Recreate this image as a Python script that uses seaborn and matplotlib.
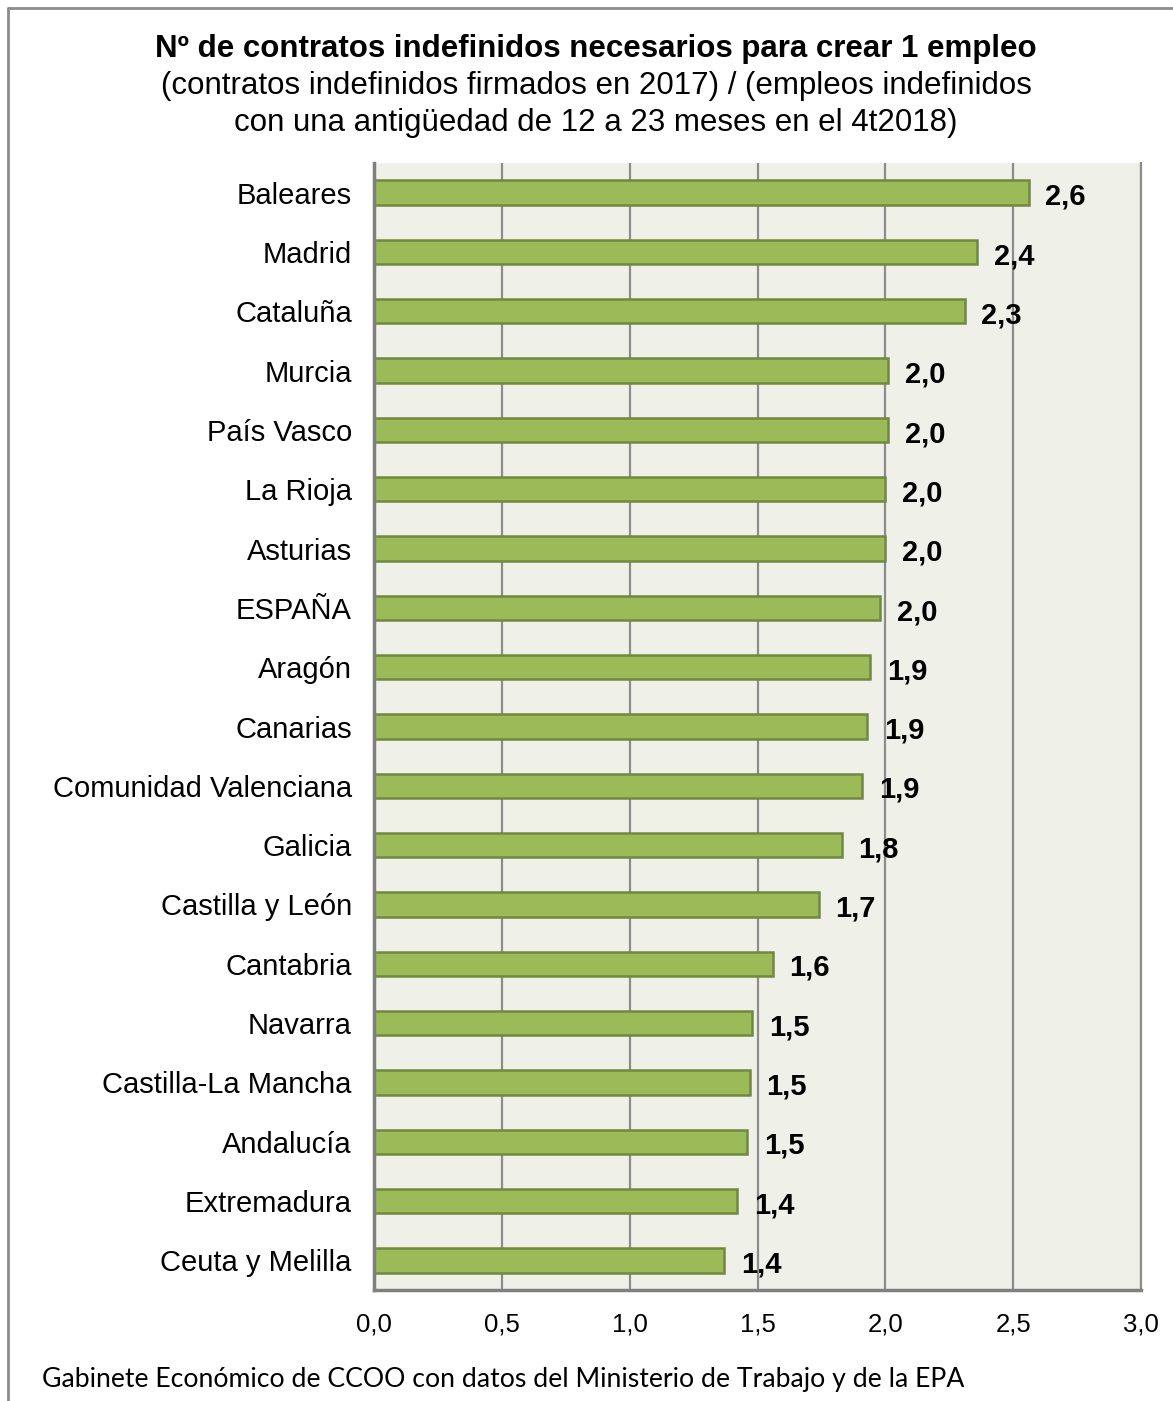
import pandas as pd
import seaborn as sns
import matplotlib.pyplot as plt
from matplotlib.lines import Line2D

regiones = ["Baleares", "Madrid", "Cataluña", "Murcia", "País Vasco", "La Rioja",
            "Asturias", "ESPAÑA", "Aragón", "Canarias", "Comunidad Valenciana",
            "Galicia", "Castilla y León", "Cantabria", "Navarra", "Castilla-La Mancha",
            "Andalucía", "Extremadura", "Ceuta y Melilla"]
valores = [2.56, 2.36, 2.31, 2.01, 2.01, 2.00, 2.00, 1.98, 1.94, 1.93, 1.91,
           1.83, 1.74, 1.56, 1.48, 1.47, 1.46, 1.42, 1.37]
ticks_x = [0.0, 0.5, 1.0, 1.5, 2.0, 2.5, 3.0]

df = pd.DataFrame({"Región": regiones, "Valor": valores})

sns.set_style("white")
plt.rcParams["font.family"] = ["Liberation Sans", "DejaVu Sans"]
plt.rcParams["text.color"] = "black"
plt.rcParams["xtick.color"] = "black"
plt.rcParams["ytick.color"] = "black"

fig = plt.figure(figsize=(11.73, 14.01), dpi=100)
ax = fig.add_axes([374 / 1173, 1 - 1290 / 1401, (1141 - 374) / 1173, (1290 - 163) / 1401])
ax.set_facecolor("#eff1e9")

sns.barplot(data=df, x="Valor", y="Región", orient="h", color="#9bbb59",
            edgecolor="#71893f", linewidth=1.8, width=0.41, saturation=1, ax=ax)

etiquetas = ax.bar_label(ax.containers[0], labels=[f"{v:.1f}".replace(".", ",") for v in valores],
                         padding=12, fontsize=21, fontweight="bold", color="black")
for e in etiquetas:
    px, py = e.get_position()
    e.set_position((px, py - 3))  # un poco por debajo del centro, como en el original

ax.set_xlim(0, 3.0)
ax.set_xticks(ticks_x)
ax.set_xticklabels([f"{t:.1f}".replace(".", ",") for t in ticks_x], fontsize=18.5)
for t in ticks_x[1:]:
    ax.axvline(t, color="#8c8c8c", lw=1.6, zorder=0)
ax.tick_params(axis="x", length=0, pad=16)
ax.tick_params(axis="y", length=0, pad=16, labelsize=21)
ax.set_xlabel("")
ax.set_ylabel("")

ax.spines["top"].set_visible(False)
ax.spines["right"].set_color("#8c8c8c")
ax.spines["right"].set_linewidth(1.6)
ax.spines["left"].set_color("#7f7f7f")
ax.spines["left"].set_linewidth(2.5)
ax.spines["bottom"].set_color("#7f7f7f")
ax.spines["bottom"].set_linewidth(2.5)

# titulo
fig.text(596 / 1173, 1 - 49 / 1401, "Nº de contratos indefinidos necesarios para crear 1 empleo",
         ha="center", va="center", fontsize=22.5, fontweight="bold")
fig.text(596 / 1173, 1 - 86 / 1401, "(contratos indefinidos firmados en 2017) / (empleos indefinidos",
         ha="center", va="center", fontsize=22.5)
fig.text(596 / 1173, 1 - 123 / 1401, "con una antigüedad de 12 a 23 meses en el 4t2018)",
         ha="center", va="center", fontsize=22.5)

# fuente
fig.text(42 / 1173, 1 - 1379 / 1401, "Gabinete Económico de CCOO con datos del Ministerio de Trabajo y de la EPA",
         ha="left", va="center", fontsize=19.2, family=["Lato", "DejaVu Sans"])

# marco
fig.add_artist(Line2D([8 / 1173, 1], [1 - 8 / 1401, 1 - 8 / 1401], color="#8c8c8c", lw=2))
fig.add_artist(Line2D([8 / 1173, 8 / 1173], [0, 1 - 8 / 1401], color="#8c8c8c", lw=2))

plt.savefig("out.png", dpi=100)
